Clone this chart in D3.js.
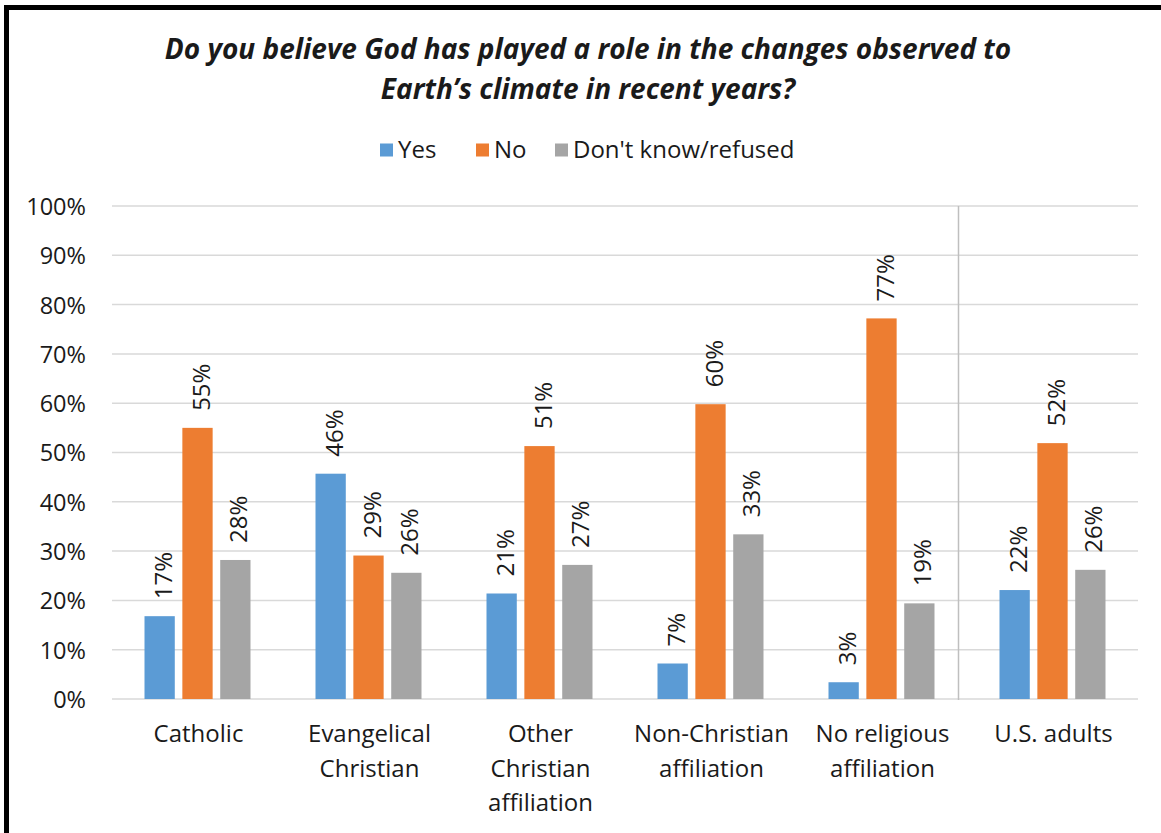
<!DOCTYPE html>
<html><head><meta charset="utf-8">
<script src="https://cdn.jsdelivr.net/npm/d3@7"></script>
<style>
html,body{margin:0;padding:0;background:#fff;}
svg{display:block;}
text{font-family:"Open Sans", sans-serif;fill:#1a1a1a;}
</style></head>
<body>
<svg id="c" width="1161" height="833"></svg>
<script>
const categories = [["Catholic"],["Evangelical","Christian"],["Other","Christian","affiliation"],["Non-Christian","affiliation"],["No religious","affiliation"],["U.S. adults"]];
const seriesNames = ["Yes","No","Don't know/refused"];
const yesValues = [16.8,45.7,21.4,7.2,3.4,22.1];
const noValues = [55.0,29.1,51.3,59.8,77.2,51.9];
const dkValues = [28.2,25.6,27.2,33.4,19.4,26.2];
const yTicks = [0,10,20,30,40,50,60,70,80,90,100];
const colors = ["#5b9bd5","#ed7d31","#a5a5a5"];
const titleLines = ["Do you believe God has played a role in the changes observed to","Earth\u2019s climate in recent years?"];

const svg = d3.select("#c");
svg.append("rect").attr("x",0).attr("y",0).attr("width",1161).attr("height",833).attr("fill","#fff");
svg.append("line").attr("x1",4).attr("x2",1161).attr("y1",7.5).attr("y2",7.5).attr("stroke","#000").attr("stroke-width",5);
svg.append("line").attr("x1",6.5).attr("x2",6.5).attr("y1",5).attr("y2",833).attr("stroke","#000").attr("stroke-width",5);

const catKeys = categories.map(c=>c.join(" "));
const x = d3.scaleBand().domain(catKeys).range([112,1138]);
const inner = d3.scaleBand().domain(seriesNames).range([32.5,138.5]).paddingInner(0.2).paddingOuter(0);
const y = d3.scaleLinear().domain([0,100]).range([699,206]);

svg.append("g").selectAll("line").data(yTicks).join("line")
  .attr("x1",112).attr("x2",1138).attr("y1",d=>y(d)).attr("y2",d=>y(d))
  .attr("stroke","#d9d9d9").attr("stroke-width",1.5);

const yAxis = d3.axisLeft(y).tickValues(yTicks).tickFormat(d=>d+"%").tickSize(0).tickPadding(0);
const yg = svg.append("g").attr("transform","translate(86,0)").call(yAxis);
yg.select(".domain").remove();
yg.selectAll("text").style("font-size","23.5px").style("font-family","'Open Sans', sans-serif").attr("fill","#1a1a1a").attr("dy","0.36em");

svg.append("line").attr("x1",x("U.S. adults")-8.5).attr("x2",x("U.S. adults")-8.5)
  .attr("y1",y(100)).attr("y2",y(0)+1).attr("stroke","#bfbfbf").attr("stroke-width",1.5);

const data = catKeys.map((c,i)=>({cat:c, vals:[yesValues[i],noValues[i],dkValues[i]]}));
const groups = svg.append("g").selectAll("g").data(data).join("g")
  .attr("transform",d=>`translate(${x(d.cat)},0)`);
groups.selectAll("rect").data(d=>d.vals.map((v,j)=>({s:seriesNames[j],v,j}))).join("rect")
  .attr("x",d=>inner(d.s)).attr("width",inner.bandwidth())
  .attr("y",d=>y(d.v)).attr("height",d=>y(0)-y(d.v))
  .attr("fill",d=>colors[d.j]);
groups.selectAll("text.lbl").data(d=>d.vals.map((v,j)=>({s:seriesNames[j],v,j}))).join("text")
  .attr("class","lbl")
  .attr("transform",d=>`translate(${inner(d.s)+inner.bandwidth()/2+2.5},${y(d.v)-17}) rotate(-90)`)
  .attr("dominant-baseline","central")
  .style("font-size","24px")
  .text(d=>Math.round(d.v)+"%");

const xl = svg.append("g").selectAll("text").data(categories).join("text")
  .attr("x",(d,i)=>x(catKeys[i])+x.bandwidth()/2+1)
  .attr("y",742).attr("text-anchor","middle").style("font-size","24px");
xl.selectAll("tspan").data(d=>d).join("tspan")
  .attr("x",function(){return d3.select(this.parentNode).attr("x");})
  .attr("dy",(d,i)=>i===0?0:34.5).text(d=>d);

svg.append("g").selectAll("text").data(titleLines).join("text")
  .attr("x",588).attr("y",(d,i)=>58.5+i*40).attr("text-anchor","middle")
  .style("font-size","28px").style("font-weight","bold").style("font-style","italic")
  .attr("fill","#000").text(d=>d);

const legX = [380,476,555];
const lg = svg.append("g").selectAll("g").data(seriesNames).join("g")
  .attr("transform",(d,i)=>`translate(${legX[i]},0)`);
lg.append("rect").attr("x",0).attr("y",143.5).attr("width",13).attr("height",13).attr("fill",(d,i)=>colors[i]);
lg.append("text").attr("x",18).attr("y",157.5).style("font-size","24px").text(d=>d);
</script>
</body></html>
